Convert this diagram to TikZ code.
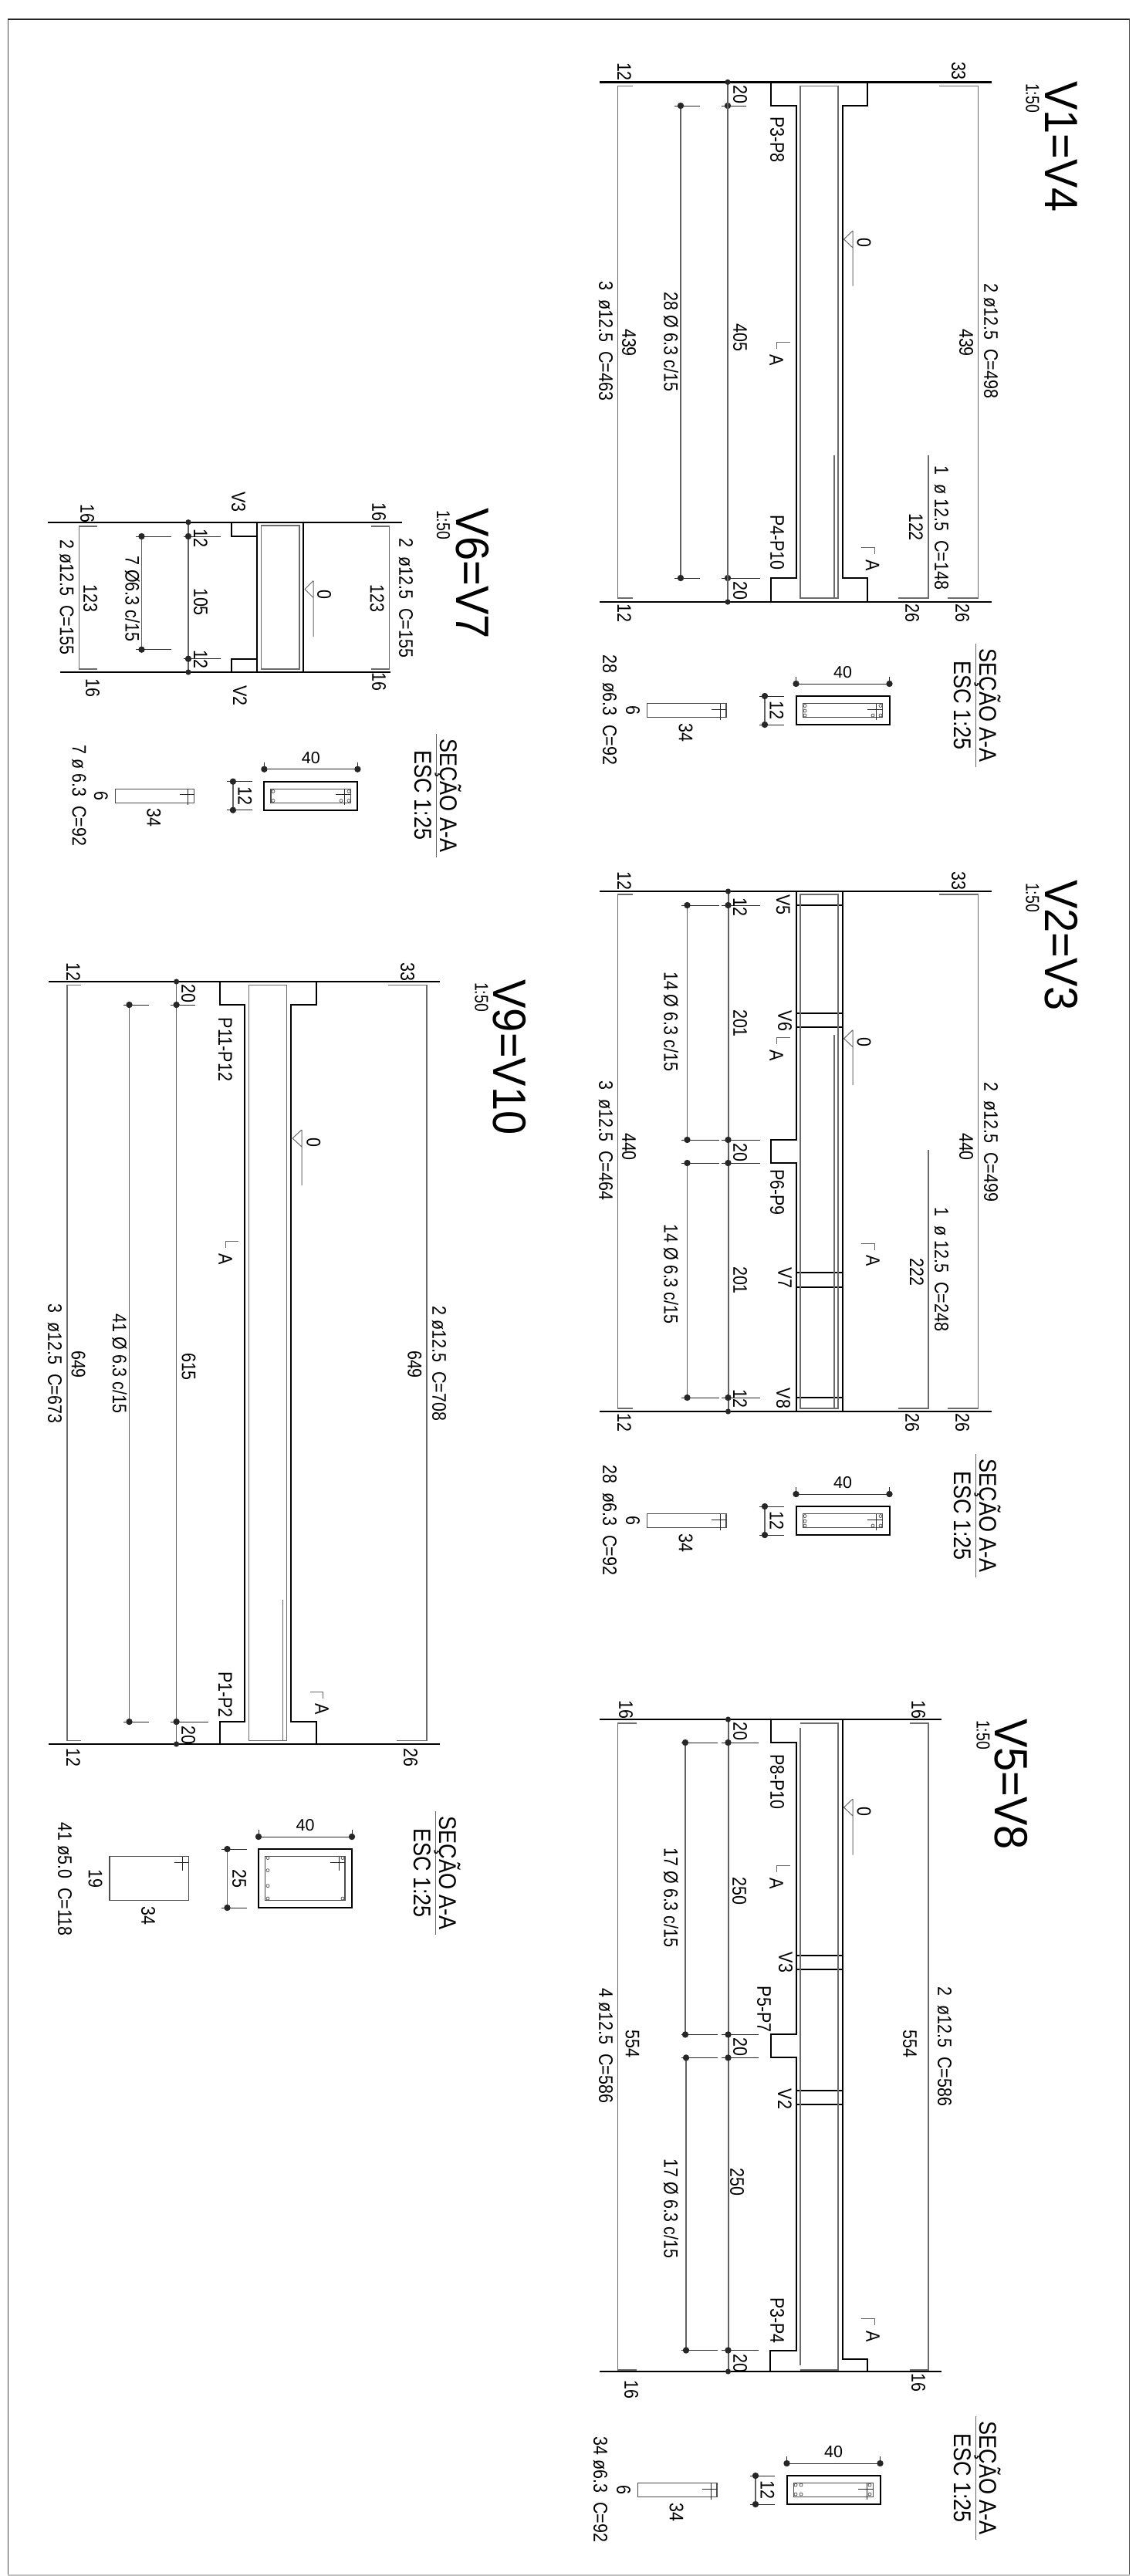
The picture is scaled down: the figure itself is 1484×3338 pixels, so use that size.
\documentclass[tikz,border=0pt]{standalone}
\usepackage{fontspec}
\usepackage{graphicx}
\setmainfont{Liberation Sans}
\newcounter{nd}
\tikzset{
  heavy/.style={line width=2pt,black,line join=miter},
  axisl/.style={line width=2.2pt,black},
  barst/.style={line width=1.5pt,black!58},
  dimst/.style={line width=1.3pt,black!62},
  tickst/.style={line width=0.9pt,black!85},
  thinl/.style={line width=1pt,black!60},
  wirest/.style={line width=1.1pt,black!70},
  txt/.style={inner sep=0pt,outer sep=0pt,rotate=-90,font=\fontsize{21.5}{21.5}\selectfont},
  uptxt/.style={inner sep=0pt,outer sep=0pt,font=\fontsize{21.5}{21.5}\selectfont},
  ttl/.style={inner sep=0pt,outer sep=0pt,rotate=-90,font=\fontsize{56}{56}\selectfont},
  scl/.style={inner sep=0pt,outer sep=0pt,rotate=-90,font=\fontsize{19.5}{20}\selectfont},
  sect/.style={inner sep=0pt,outer sep=0pt,rotate=-90,font=\fontsize{27}{27}\selectfont},
}
\newcommand{\lbx}[3]{\stepcounter{nd}\node[txt,name=t\thend] at (#1,#2) {\scalebox{1}[1.18]{#3}};}
\newcommand{\tlx}[3]{\stepcounter{nd}\node[ttl,name=t\thend] at (#1,#2) {\scalebox{1}[1.08]{#3}};}
\newcommand{\scx}[2]{\stepcounter{nd}\node[scl,name=t\thend] at (#1,#2) {\scalebox{1}[1.25]{1:50}};}
\newcommand{\rbar}[5]{\draw[barst] (#4,#2)--(#1,#2)--(#1,#3)--(#5,#3);}
\newcommand{\dotm}[2]{\fill[black!85] (#1,#2) circle (4.2pt);}
\newcommand{\dotp}[2]{\fill[black!85] (#1,#2) circle (3.6pt);}
\newcommand{\dimv}[5]{\draw[dimst] (#1,#2)--(#1,#3);
  \draw[tickst] (#4,#2)--(#5,#2) (#4,#3)--(#5,#3);
  \dotm{#1}{#2}\dotm{#1}{#3}}
\newcommand{\lvl}[4]{\draw[thinl] (#3,#2-11)--(#1,#2)--(#3,#2+11) (#3,#2-11)--(#3,#4);}
\newcommand{\mkl}[3]{\draw[thinl] (#2,#3)--(#1,#3)--(#1,#3+9);}
\newcommand{\mkr}[3]{\draw[thinl] (#1,#3)--(#2,#3)--(#2,#3+9);}
% section: X Y H dimtext bendend shapetext
\newcommand{\secao}[6]{
  \draw[heavy] (#1,#2) rectangle (#1+121,#2+#3);
  \draw[wirest] (#1+8.6,#2+9.7) rectangle (#1+112,#2+#3-9.3);
  \draw[tickst] (#1+104,#2+9.7)--(#1+104,#5) (#1+92.5,#2+17)--(#1+112,#2+17);
  \draw[tickst] (#1,#2-16)--(#1+121,#2-16) (#1,#2-25)--(#1,#2-16) (#1+121,#2-25)--(#1+121,#2-16);
  \dotm{#1}{#2-16}\dotm{#1+121}{#2-16}
  \stepcounter{nd}\node[uptxt,name=t\thend] at (#1+60.5,#2-31) {40};
  \dimv{#1-40.5}{#2}{#2+#3}{#1-48}{#1-15.5}
  \lbx{#1-25}{#2+#3/2}{#4}
  \draw[wirest] (#1-193,#2+9.7) rectangle (#1-90.5,#2+#3-9.3);
  \draw[tickst] (#1-98.5,#2+9.7)--(#1-98.5,#5) (#1-109.5,#2+17)--(#1-90.5,#2+17);
  \lbx{#1-211.5}{#2+#3/2}{#6}
  \lbx{#1-143}{#2+#3+10}{34}
}
\newcommand{\stitle}[2]{
  \draw[thinl] (#1,#2-80)--(#1,#2+80);
  \stepcounter{nd}\node[sect,name=t\thend] at (#1+16,#2) {\scalebox{1}[1.16]{SEÇÃO A-A}};
  \stepcounter{nd}\node[sect,name=t\thend] at (#1-17,#2) {\scalebox{1}[1.16]{ESC 1:25}};
}
\newcommand{\crc}[1]{\foreach \a/\b in {#1}{\draw[line width=0.7pt,black!70] (\a,\b) circle (2pt);}}
\begin{document}
\begin{tikzpicture}[x=1pt,y=-1pt]
\useasboundingbox (0,0) rectangle (1484,3338);
% frame
\draw[line width=1pt,black!70] (10.5,25)--(10.5,3337) (1463,25)--(1463,3337);
\draw[line width=2pt,black!85] (10,25)--(1463.5,25);
\draw[line width=2pt,black!25] (10,3337)--(1463.5,3337);

% ---------- V1=V4 ----------
\draw[axisl] (776.6,106.4)--(1284.6,106.4) (776.6,780)--(1284.6,780);
\draw[heavy] (999,106.4)--(999,137)--(1031.5,137)--(1031.5,749)--(999,749)--(999,780);
\draw[heavy] (1124,106.4)--(1124,137)--(1092,137)--(1092,749)--(1124,749)--(1124,780);
\draw[barst] (1037,111.4) rectangle (1086,775);
\draw[barst] (1081,590)--(1081,775);
\rbar{800.7}{111.4}{775}{819.5}{819.5}
\rbar{1267.7}{111.4}{775}{1217}{1227.5}
\draw[barst] (1203,590)--(1203,775)--(1164,775);
\dimv{943}{137}{749}{935}{967}
\draw[tickst] (967,749)--(985,749);
\draw[dimst] (943,106.4)--(943,780);
\dotp{943}{106.4}\dotp{943}{780}
\dimv{882}{137}{749}{874}{907}
\lvl{1093.6}{310}{1105}{370.7}
\mkl{1006.5}{1023.5}{443}
\mkr{1116}{1133}{709}
\tlx{1375}{190}{V1=V4}
\scx{1338}{127}
\lbx{809}{93}{12}\lbx{1242}{92}{33}\lbx{809}{794}{12}\lbx{1182}{794}{26}\lbx{1247}{794}{26}
\lbx{959}{122.5}{20}\lbx{959}{765}{20}
\lbx{1007}{181}{P3-P8}\lbx{1007}{703}{P4-P10}
\lbx{959}{437.5}{405}\lbx{815}{444}{439}\lbx{1252}{444}{439}
\lbx{785}{442}{3\ \ ø12.5\ \ C=463}\lbx{1284}{442}{2 ø12.5\ \ C=498}
\lbx{869.5}{443}{28 Ø 6.3 c/15}
\lbx{1006}{467}{A}\lbx{1130.6}{733}{A}\lbx{1119.5}{314}{0}
\lbx{1220}{684}{1\ \ ø 12.5\ \ C=148}\lbx{1187}{683}{122}
\secao{1031.5}{902}{37}{12}{932.7}{6}
\crc{1043/914.5,1043/921,1043/927,1131/927,1141/914.5,1141/927}
\lbx{790}{920}{28\ \ ø6.3\ \ C=92}
\stitle{1264}{914}

% ---------- V2=V3 ----------
\draw[axisl] (776.6,1155)--(1284.6,1155) (776.6,1829)--(1284.6,1829);
\draw[heavy] (1031.5,1155)--(1031.5,1477)--(999,1477)--(999,1507)--(1031.5,1507)--(1031.5,1829);
\draw[heavy] (1092,1155)--(1092,1829);
\draw[heavy] (1031.5,1173)--(1092,1173) (1031.5,1312.5)--(1092,1312.5) (1031.5,1331)--(1092,1331) (1031.5,1648.6)--(1092,1648.6) (1031.5,1667.5)--(1092,1667.5) (1031.5,1811)--(1092,1811);
\draw[barst] (1037,1159) rectangle (1086,1825);
\draw[barst] (1081,1341)--(1081,1825);
\rbar{800.7}{1159}{1825}{819.5}{819.5}
\rbar{1267.7}{1159}{1825}{1217}{1227.5}
\draw[barst] (1203,1490)--(1203,1825)--(1164,1825);
\draw[dimst] (944,1155)--(944,1829);
\dimv{943.5}{1173}{1477}{935}{985}
\dimv{943.5}{1507}{1811}{935}{985}
\dotp{943.5}{1155}\dotp{943.5}{1829}
\dimv{890.5}{1173}{1477}{883}{932}
\dimv{890.5}{1507}{1811}{883}{932}
\lvl{1093.6}{1345.7}{1105}{1406}
\mkl{1006.5}{1023.5}{1344}
\mkr{1116}{1133}{1611}
\tlx{1375}{1225}{V2=V3}
\scx{1338}{1163}
\lbx{809}{1141}{12}\lbx{1242}{1141}{33}\lbx{809}{1843}{12}\lbx{1182}{1843}{26}\lbx{1247}{1843}{26}
\lbx{959}{1175}{12}\lbx{959}{1326}{201}\lbx{959}{1493}{20}\lbx{959}{1659}{201}\lbx{959}{1812.7}{12}
\lbx{869.5}{1323.6}{14 Ø 6.3 c/15}\lbx{869.5}{1651}{14 Ø 6.3 c/15}
\lbx{1014.6}{1172.5}{V5}\lbx{1017}{1323}{V6}\lbx{1017}{1656}{V7}\lbx{1015}{1812}{V8}
\lbx{1007}{1545}{P6-P9}
\lbx{1006}{1368}{A}\lbx{1131}{1634}{A}\lbx{1119.5}{1350}{0}
\lbx{815}{1486}{440}\lbx{1252}{1486}{440}
\lbx{785}{1478}{3\ \ ø12.5\ \ C=464}\lbx{1284}{1480}{2\ \ ø12.5\ \ C=499}
\lbx{1220}{1645}{1\ \ ø 12.5\ \ C=248}\lbx{1188}{1648.6}{222}
\secao{1031.5}{1952}{37}{12}{1982.7}{6}
\crc{1043/1964.5,1043/1971,1043/1977,1131/1977,1141/1964.5,1141/1977}
\lbx{790}{1970}{28\ \ ø6.3\ \ C=92}
\stitle{1264}{1964}

% ---------- V5=V8 ----------
\draw[axisl] (776.6,2228)--(1220,2228) (776.6,3073)--(1220,3073);
\draw[heavy] (999,2228)--(1092,2228);
\draw[heavy] (999,2228)--(999,2258)--(1031.5,2258)--(1031.5,2636.4)--(999,2636.4)--(999,2666.4)--(1031.5,2666.4)--(1031.5,3045.5)--(998,3045.5)--(998,3073)--(1124,3073)--(1124,3057)--(1092,3057)--(1092,2228);
\draw[heavy] (1031.5,2534)--(1092,2534) (1031.5,2552)--(1092,2552) (1031.5,2709)--(1092,2709) (1031.5,2727)--(1092,2727);
\draw[barst] (1037,2239)--(1037,3065);
\draw[barst] (1037,2233)--(1086,2233)--(1086,3071)--(1037,3071);
\rbar{800.7}{2233}{3071}{825}{825}
\rbar{1203}{2233}{3071}{1179}{1179}
\draw[dimst] (944,2228)--(944,3073);
\dimv{943.5}{2258}{2636.4}{935}{983}
\dimv{943.5}{2666.4}{3045.5}{935}{983}
\dotp{943.5}{2228}\dotp{943.5}{3073}
\dimv{888}{2258}{2636.4}{883}{930}
\dimv{889}{2666.4}{3045.5}{883}{930}
\lvl{1093.6}{2342}{1105}{2403.6}
\mkl{1006.5}{1023.5}{2417}
\mkr{1116}{1133}{3004}
\tlx{1310}{2312}{V5=V8}
\scx{1274}{2248}
\lbx{811}{2215}{16}\lbx{1190}{2215}{16}\lbx{818}{3096}{16}\lbx{1190}{3087}{16}
\lbx{959}{2243}{20}\lbx{959}{2652}{20}\lbx{959}{3062}{20}
\lbx{958}{2450}{250}\lbx{955}{2827}{250}
\lbx{869.5}{2459}{17 Ø 6.3 c/15}\lbx{869.5}{2862}{17 Ø 6.3 c/15}
\lbx{1007}{2309}{P8-P10}\lbx{1018}{2543}{V3}\lbx{990}{2603.6}{P5-P7}\lbx{1017}{2720}{V2}\lbx{1007}{3007}{P3-P4}
\lbx{1006}{2441}{A}\lbx{1131}{3028}{A}\lbx{1119.5}{2347}{0}
\lbx{819.5}{2648}{554}\lbx{1179}{2648}{554}
\lbx{785}{2651}{4 ø12.5\ \ C=586}\lbx{1224}{2652}{2\ \ ø12.5\ \ C=586}
\secao{1019.5}{3208}{37}{12}{3238.7}{6}
\crc{1031/3220,1031/3232,1038/3220,1038/3232,1127/3220,1127/3232}
\lbx{778}{3226}{34 ø6.3\ \ C=92}
\stitle{1264}{3211}

% ---------- V6=V7 ----------
\draw[axisl] (61.7,676.7)--(521,676.7) (78,871)--(505.6,871);
\draw[heavy] (300,676.7)--(300,695)--(332.5,695)--(332.5,853.7)--(300,853.7)--(300,871);
\draw[heavy] (332.5,676.7)--(332.5,695) (332.5,853.7)--(332.5,871) (392.6,676.7)--(392.6,871);
\draw[barst] (338.4,681) rectangle (388,867);
\rbar{102.5}{682}{867}{126}{126}
\rbar{504.4}{682}{867}{480.7}{480.7}
\draw[dimst] (244,676.7)--(244,871);
\dimv{244}{695}{853.7}{237.6}{286}
\dotp{244}{676.7}\dotp{244}{871}
\dimv{183.5}{695}{841.7}{176}{222}
\lvl{395}{763.5}{406}{825}
\tlx{612}{743}{V6=V7}
\scx{574.4}{680}
\lbx{113}{665}{16}\lbx{491}{663}{16}\lbx{120}{891.7}{16}\lbx{491}{883}{16}
\lbx{260}{697}{12}\lbx{260}{854}{12}\lbx{260}{780}{105}
\lbx{171.6}{775.7}{7 Ø6.3 c/15}
\lbx{309}{650.7}{V3}\lbx{311}{901.7}{V2}\lbx{420}{770}{0}
\lbx{117}{775.7}{123}\lbx{488.6}{775.7}{123}
\lbx{86.6}{774}{2 ø12.5\ \ C=155}\lbx{526}{774.7}{2\ \ ø12.5\ \ C=155}
\secao{342.4}{1012.7}{37}{12}{1043.4}{6}
\crc{354/1025.5,354/1037.5,442/1037.5,452/1025.5,452/1037.5}
\lbx{102.5}{1030.7}{7 ø 6.3\ \ C=92}
\stitle{565}{1030.7}

% ---------- V9=V10 ----------
\draw[axisl] (62.5,1272)--(570,1272) (62.5,2260)--(570,2260);
\draw[heavy] (285,1272)--(285,1302)--(316.7,1302)--(316.7,2231)--(285,2231)--(285,2260);
\draw[heavy] (409.5,1272)--(409.5,1302)--(377.4,1302)--(377.4,2231)--(409.5,2231)--(409.5,2260);
\draw[barst] (322.7,1276.4) rectangle (371.7,2255.5);
\draw[barst] (366.5,2073)--(366.5,2255.5)--(330,2255.5);
\rbar{86.8}{1276.4}{2255.5}{105}{105}
\rbar{553}{1276.4}{2255.5}{502.7}{513.5}
\draw[dimst] (228.6,1272)--(228.6,2260);
\dimv{228.6}{1302}{2231}{221}{253}
\draw[tickst] (253,2231)--(270,2231);
\dotp{228.6}{1272}\dotp{228.6}{2260}
\dimv{167.5}{1302}{2231}{160}{193}
\lvl{379}{1475}{391}{1536}
\mkl{292}{309}{1608}
\mkr{402}{418}{2192}
\tlx{660}{1370}{V9=V10}
\scx{624}{1292}
\lbx{95}{1259}{12}\lbx{528}{1259}{33}\lbx{95}{2277}{12}\lbx{532}{2277}{26}
\lbx{244}{1287.5}{20}\lbx{244}{2248}{20}
\lbx{292}{1360}{P11-P12}\lbx{292}{2196}{P1-P2}
\lbx{292}{1632}{A}\lbx{417}{2215}{A}\lbx{406.4}{1480}{0}
\lbx{101.6}{1768}{649}\lbx{537.4}{1768}{649}\lbx{244.7}{1771}{615}
\lbx{71}{1767}{3\ \ ø12.5\ \ C=673}\lbx{569}{1767}{2 ø12.5\ \ C=708}
\lbx{155}{1767}{41 Ø 6.3 c/15}
\secao{335}{2396}{76}{25}{2423.7}{19}
\crc{347/2407.5,347/2423.6,347/2443.7,347/2460,444/2407.5,444/2460}
\lbx{84}{2435}{41 ø5.0\ \ C=118}
\stitle{564}{2427}
\end{tikzpicture}
\end{document}
